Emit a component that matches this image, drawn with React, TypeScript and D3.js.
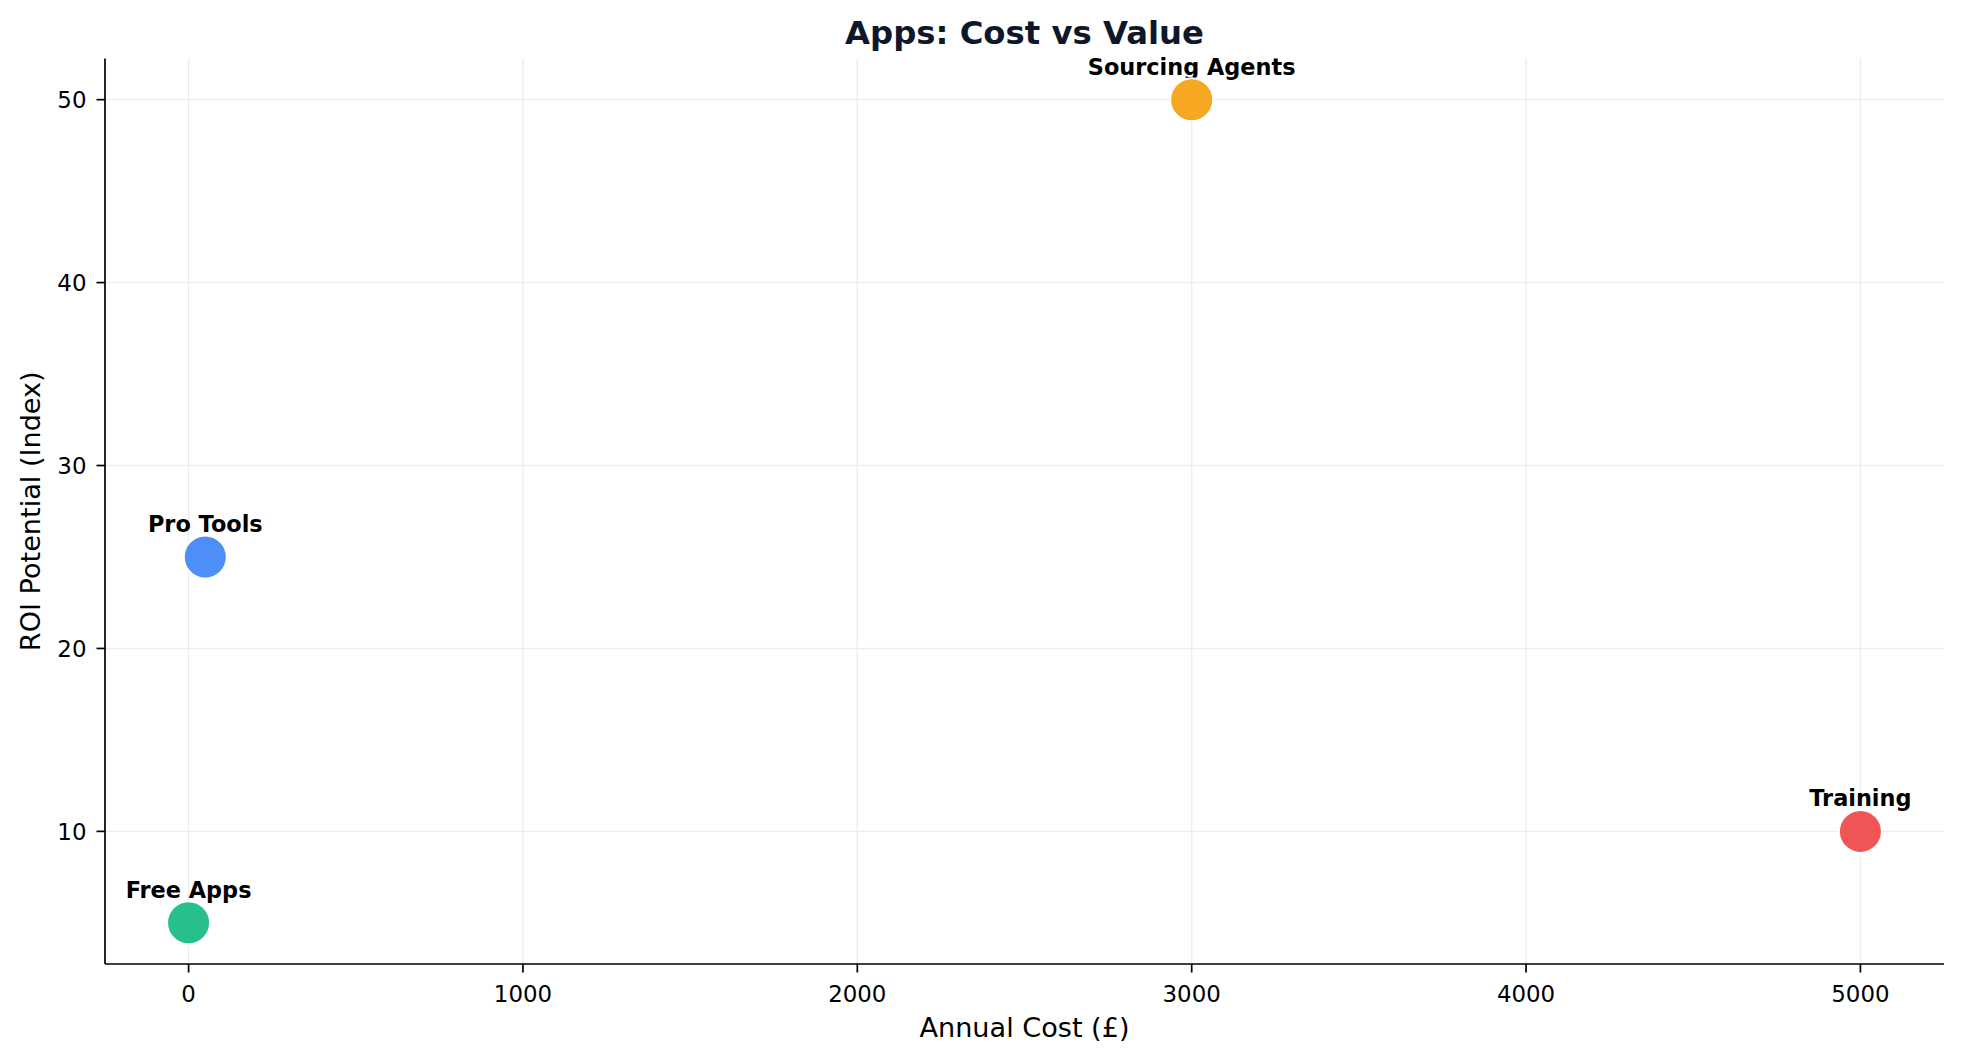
import React from "react";
import * as d3 from "d3";

const names = ["Free Apps", "Pro Tools", "Sourcing Agents", "Training"];
const costs = [0, 50, 3000, 5000];
const roi = [5, 25, 50, 10];
const colors = ["#10B981", "#3B82F6", "#F59E0B", "#EF4444"];
const xTicks = [0, 1000, 2000, 3000, 4000, 5000];
const yTicks = [10, 20, 30, 40, 50];

const W = 1963;
const H = 1062;
const M = { left: 105, right: 1944, top: 58.5, bottom: 964 };
const FONT = "'DejaVu Sans', sans-serif";

export default function App() {
  const xMin = d3.min(costs)!, xMax = d3.max(costs)!;
  const yMin = d3.min(roi)!, yMax = d3.max(roi)!;
  const xPad = (xMax - xMin) * 0.05;
  const yPad = (yMax - yMin) * 0.05;
  const x = d3.scaleLinear().domain([xMin - xPad, xMax + xPad]).range([M.left, M.right]);
  const y = d3.scaleLinear().domain([yMin - yPad, yMax + yPad]).range([M.bottom, M.top]);
  const tickLen = 8.5;
  const pts = names.map((n, i) => ({ n, cx: x(costs[i]), cy: y(roi[i]), c: colors[i] }));
  return (
    <svg width={W} height={H} style={{ position: "absolute", left: 0, top: 0, background: "#fff" }} fontFamily={FONT}>
      <rect x={0} y={0} width={W} height={H} fill="#fff" />
      {xTicks.map((t) => (
        <line key={"gx" + t} x1={x(t)} x2={x(t)} y1={M.top} y2={M.bottom} stroke="#ededed" strokeWidth={1.4} />
      ))}
      {yTicks.map((t) => (
        <line key={"gy" + t} x1={M.left} x2={M.right} y1={y(t)} y2={y(t)} stroke="#ededed" strokeWidth={1.4} />
      ))}
      {pts.map((p) => (
        <text key={"l" + p.n} x={p.cx} y={p.cy - 25} textAnchor="middle" fontWeight="bold" fontSize={22.4} fill="#000">
          {p.n}
        </text>
      ))}
      {pts.map((p) => (
        <circle key={"c" + p.n} cx={p.cx} cy={p.cy} r={21.5} fill={p.c} fillOpacity={0.9} stroke="#fff" strokeWidth={2} />
      ))}
      <line x1={M.left} x2={M.left} y1={M.top} y2={M.bottom} stroke="#000" strokeWidth={1.7} />
      <line x1={M.left} x2={M.right} y1={M.bottom} y2={M.bottom} stroke="#000" strokeWidth={1.7} />
      {xTicks.map((t) => (
        <g key={"xt" + t}>
          <line x1={x(t)} x2={x(t)} y1={M.bottom} y2={M.bottom + tickLen} stroke="#000" strokeWidth={1.7} />
          <text x={x(t)} y={1001.5} textAnchor="middle" fontSize={22.9} fill="#000">
            {t}
          </text>
        </g>
      ))}
      {yTicks.map((t) => (
        <g key={"yt" + t}>
          <line x1={M.left - tickLen} x2={M.left} y1={y(t)} y2={y(t)} stroke="#000" strokeWidth={1.7} />
          <text x={86.5} y={y(t) + 8.5} textAnchor="end" fontSize={22.9} fill="#000">
            {t}
          </text>
        </g>
      ))}
      <text x={(M.left + M.right) / 2} y={1037} textAnchor="middle" fontSize={27.1} fill="#000">
        Annual Cost (£)
      </text>
      <text
        transform={`translate(39.5, ${(M.top + M.bottom) / 2}) rotate(-90)`}
        textAnchor="middle"
        fontSize={27.1}
        fill="#000"
      >
        ROI Potential (Index)
      </text>
      <text x={(M.left + M.right) / 2} y={44} textAnchor="middle" fontWeight="bold" fontSize={32.3} fill="#0f172a">
        Apps: Cost vs Value
      </text>
    </svg>
  );
}
